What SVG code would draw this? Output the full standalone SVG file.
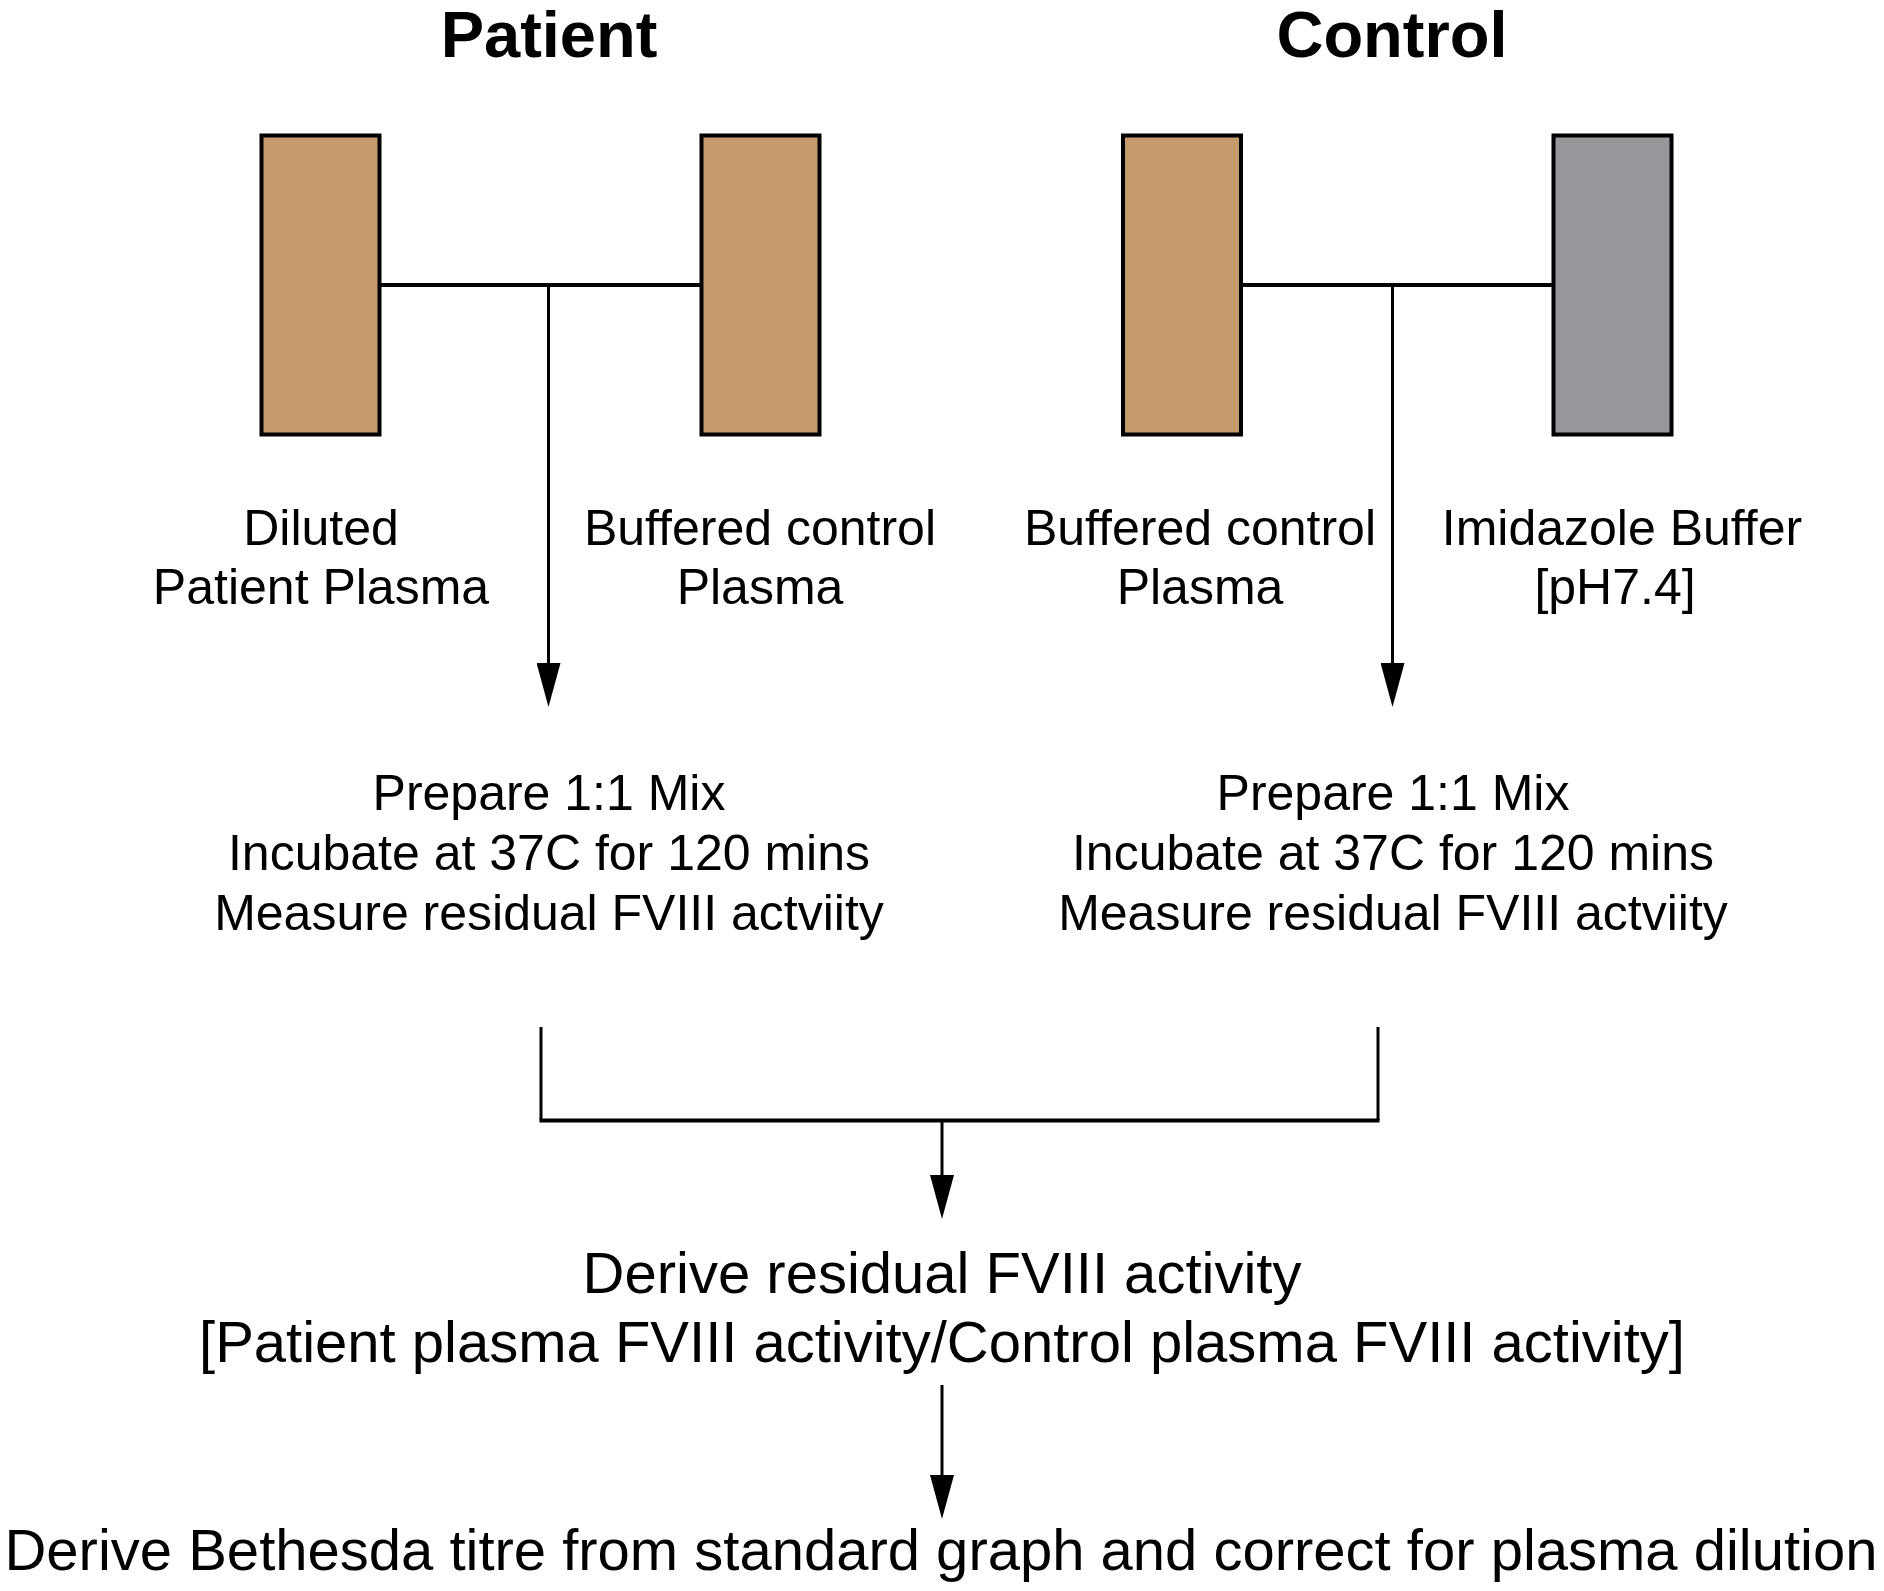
<svg xmlns="http://www.w3.org/2000/svg" width="1884" height="1591" viewBox="0 0 1884 1591">
<style>
.t{font-family:"Liberation Sans",Arial,sans-serif;fill:#000;text-anchor:middle}
.h{font-size:65px;font-weight:bold}
.m{font-size:50px}
.l{font-size:58px}
.tan{fill:#C49A6C;stroke:#000;stroke-width:4}
.gray{fill:#97989B;stroke:#000;stroke-width:4}
.c{fill:none;stroke:#000;stroke-width:3}
.b{fill:none;stroke:#000;stroke-width:4}
</style>
<defs>
<marker id="ah" markerUnits="userSpaceOnUse" markerWidth="44" markerHeight="24" refX="0" refY="12" orient="auto" viewBox="0 0 44 24">
<path d="M0,0 L44,12 L0,24 Z" fill="#000"/>
</marker>
</defs>
<rect width="1884" height="1591" fill="#fff"/>
<g id="connectors">
<line class="b" x1="381" y1="285" x2="701" y2="285"/>
<line class="c" x1="548.5" y1="285" x2="548.5" y2="663" marker-end="url(#ah)"/>
<line class="b" x1="1243" y1="285" x2="1553" y2="285"/>
<line class="c" x1="1392.5" y1="285" x2="1392.5" y2="663" marker-end="url(#ah)"/>
<path class="c" d="M541,1027 V1120.5"/>
<path class="c" d="M1378,1027 V1120.5"/>
<line class="b" x1="539.5" y1="1120.5" x2="1379.5" y2="1120.5"/>
<line class="c" x1="942" y1="1120.5" x2="942" y2="1175" marker-end="url(#ah)"/>
<line class="c" x1="942" y1="1385" x2="942" y2="1475" marker-end="url(#ah)"/>
</g>
<g id="title-patient"><text class="t h" x="549" y="57">Patient</text></g>
<g id="title-control"><text class="t h" x="1392" y="57">Control</text></g>
<g id="patient-diluted">
<rect class="tan" x="261.5" y="135.5" width="118" height="299"/>
<text class="t m" x="321" y="545">Diluted</text>
<text class="t m" x="321" y="604">Patient Plasma</text>
</g>
<g id="patient-buffered">
<rect class="tan" x="701.5" y="135.5" width="118" height="299"/>
<text class="t m" x="760" y="545">Buffered control</text>
<text class="t m" x="760" y="604">Plasma</text>
</g>
<g id="control-buffered">
<rect class="tan" x="1123" y="135.5" width="118" height="299"/>
<text class="t m" x="1200" y="545">Buffered control</text>
<text class="t m" x="1200" y="604">Plasma</text>
</g>
<g id="control-imidazole">
<rect class="gray" x="1553.5" y="135.5" width="118" height="299"/>
<text class="t m" x="1622" y="545">Imidazole Buffer</text>
<text class="t m" x="1615" y="604">[pH7.4]</text>
</g>
<g id="patient-mix">
<text class="t m" x="549" y="810">Prepare 1:1 Mix</text>
<text class="t m" x="549" y="870">Incubate at 37C for 120 mins</text>
<text class="t m" x="549" y="930">Measure residual FVIII actviity</text>
</g>
<g id="control-mix">
<text class="t m" x="1393" y="810">Prepare 1:1 Mix</text>
<text class="t m" x="1393" y="870">Incubate at 37C for 120 mins</text>
<text class="t m" x="1393" y="930">Measure residual FVIII actviity</text>
</g>
<g id="derive-residual">
<text class="t l" x="942" y="1293">Derive residual FVIII activity</text>
<text class="t l" x="942" y="1362">[Patient plasma FVIII activity/Control plasma FVIII activity]</text>
</g>
<g id="derive-bethesda">
<text class="t l" x="941" y="1570">Derive Bethesda titre from standard graph and correct for plasma dilution</text>
</g>
</svg>
